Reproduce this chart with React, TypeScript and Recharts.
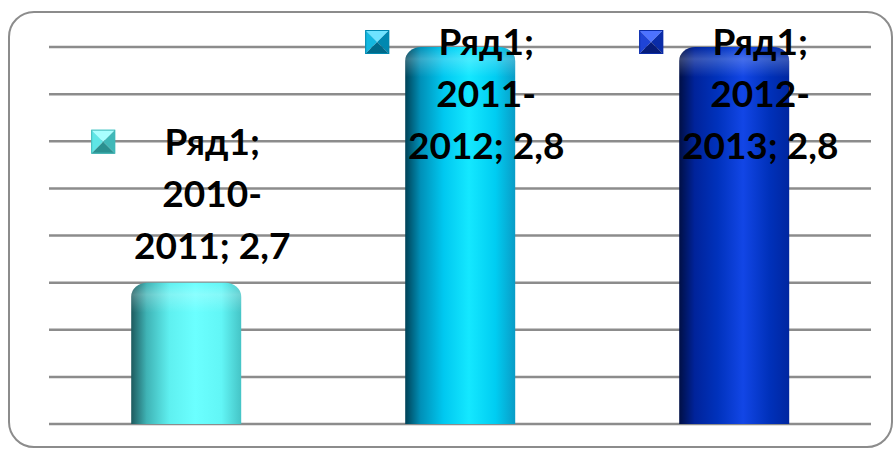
import { Bar, BarChart, CartesianGrid, Cell, LabelList, XAxis, YAxis } from "recharts";

const seriesName = "Ряд1";
const categories = ["2010-2011", "2011-2012", "2012-2013"];
const values = [2.7, 2.8, 2.8];
const yTicks = [2.64, 2.66, 2.68, 2.7, 2.72, 2.74, 2.76, 2.78, 2.8];

const data = categories.map((category, i) => ({ category, value: values[i] }));

// horizontal shading of each cylinder (left dark -> bright -> slightly dark right)
const cylinderStops = [
  ["#1d5a5e", "#3fb3b5", "#5ff0f0", "#6bffff", "#62f6f6", "#45c4c6"],
  ["#004257", "#0090b8", "#00c8f0", "#14e8ff", "#00cdf2", "#0a9cc6"],
  ["#000f45", "#00239a", "#0032bc", "#1246e6", "#0031ba", "#0026a0"],
];
const stopOffsets = ["0%", "14%", "35%", "58%", "82%", "100%"];

// pyramid legend key shades: top, left, right, bottom, centre
const keyShades = [
  ["#a8ffff", "#5fe6e6", "#3fb8b8", "#2a9090"],
  ["#6fe3ff", "#14b8e0", "#0088b0", "#006a8a"],
  ["#4d72ff", "#1f44d6", "#0a2ca8", "#061c7a"],
];

const FONT = "Lato, 'Open Sans', sans-serif";

function CylinderBar(props: any) {
  const { x, y, width, height, fill } = props;
  if (!width || height == null) return null;
  const rx = 16;
  const ry = 14;
  const d = `M${x},${y + height} L${x},${y + ry} A${rx},${ry} 0 0 1 ${x + rx},${y} L${x + width - rx},${y} A${rx},${ry} 0 0 1 ${x + width},${y + ry} L${x + width},${y + height} Z`;
  const capH = 30;
  const cap = `M${x},${y + capH} L${x},${y + ry} A${rx},${ry} 0 0 1 ${x + rx},${y} L${x + width - rx},${y} A${rx},${ry} 0 0 1 ${x + width},${y + ry} L${x + width},${y + capH} Z`;
  return (
    <g>
      <path d={d} fill={fill} />
      <path d={cap} fill="url(#capShade)" />
    </g>
  );
}

function LegendKey({ x, y, index }: { x: number; y: number; index: number }) {
  const s = 24;
  const c = keyShades[index];
  const cx = x + s / 2;
  const cy = y + s / 2;
  return (
    <g>
      <polygon points={`${x},${y} ${x + s},${y} ${cx},${cy}`} fill={c[0]} />
      <polygon points={`${x},${y} ${x},${y + s} ${cx},${cy}`} fill={c[1]} />
      <polygon points={`${x + s},${y} ${x + s},${y + s} ${cx},${cy}`} fill={c[2]} />
      <polygon points={`${x},${y + s} ${x + s},${y + s} ${cx},${cy}`} fill={c[3]} />
      <rect x={x + 0.5} y={y + 0.5} width={s - 1} height={s - 1} fill="none" stroke={c[2]} strokeWidth={1} />
    </g>
  );
}

function BarLabel(props: any) {
  const { x, y, width, index } = props;
  const i = index ?? 0;
  const [from, to] = categories[i].split("-");
  const lines = [
    `${seriesName};`,
    `${from}-`,
    `${to}; ${String(values[i]).replace(".", ",")}`,
  ];
  const lineGap = 52;
  const last = Math.max(y - 24, 159);
  const first = last - lineGap * (lines.length - 1);
  const cx = x + width / 2 + 26;
  return (
    <g>
      <LegendKey x={cx - 121} y={first - 25} index={i} />
      {lines.map((t, k) => (
        <text
          key={k}
          x={cx}
          y={first + k * lineGap}
          textAnchor="middle"
          fontFamily={FONT}
          fontWeight={700}
          fontSize={37}
          fill="#000"
        >
          {t}
        </text>
      ))}
    </g>
  );
}

export default function App() {
  return (
    <div style={{ position: "absolute", left: 0, top: 0, width: 896, height: 450, background: "#fff" }}>
      <div
        style={{
          position: "absolute",
          left: 8,
          top: 11,
          width: 885,
          height: 437,
          boxSizing: "border-box",
          border: "2px solid #8c8c8c",
          borderRadius: 26,
        }}
      />
      <div style={{ position: "absolute", left: 0, top: 0 }}>
        <BarChart
          width={896}
          height={450}
          data={data}
          margin={{ top: 47, right: 25, bottom: 26, left: 49 }}
          barCategoryGap="30%"
        >
          <defs>
            {cylinderStops.map((stops, i) => (
              <linearGradient key={i} id={`cyl${i}`} x1="0" y1="0" x2="1" y2="0">
                {stops.map((c, k) => (
                  <stop key={k} offset={stopOffsets[k]} stopColor={c} />
                ))}
              </linearGradient>
            ))}
            <linearGradient id="capShade" x1="0" y1="0" x2="0" y2="1">
              <stop offset="0%" stopColor="#fff" stopOpacity={0} />
              <stop offset="40%" stopColor="#fff" stopOpacity={0.22} />
              <stop offset="100%" stopColor="#fff" stopOpacity={0} />
            </linearGradient>
          </defs>
          <CartesianGrid vertical={false} stroke="#8c8c8c" strokeWidth={2.5} />
          <XAxis dataKey="category" hide />
          <YAxis hide domain={[2.64, 2.8]} ticks={yTicks} allowDataOverflow />
          <Bar dataKey="value" shape={<CylinderBar />} isAnimationActive={false}>
            {data.map((_, i) => (
              <Cell key={i} fill={`url(#cyl${i})`} />
            ))}
            <LabelList dataKey="value" content={<BarLabel />} />
          </Bar>
        </BarChart>
      </div>
    </div>
  );
}
